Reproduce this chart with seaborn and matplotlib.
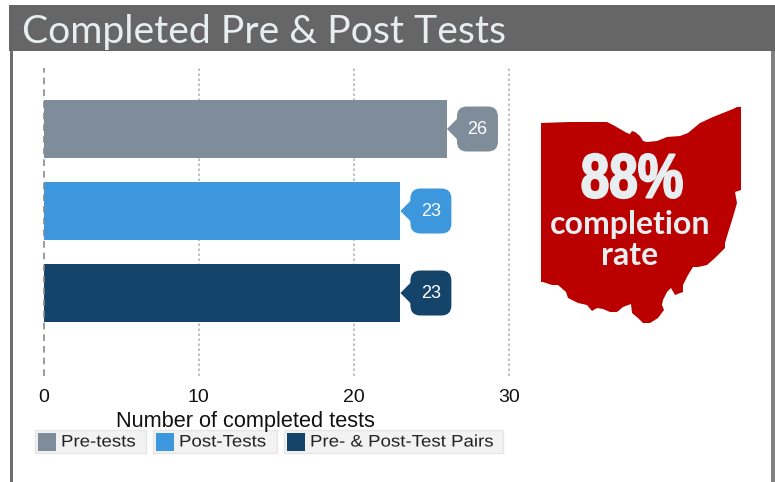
from __future__ import annotations

import matplotlib

matplotlib.use("Agg")
import matplotlib.pyplot as plt
from matplotlib.patches import FancyBboxPatch, Polygon, Rectangle
from matplotlib.patheffects import AbstractPathEffect
from matplotlib.transforms import Affine2D, IdentityTransform
import pandas as pd
import seaborn as sns


CATEGORIES = ["Pre-tests", "Post-Tests", "Pre- & Post-Test Pairs"]
COMPLETED = [26, 23, 23]
COLORS = ["#7F8C99", "#3C97DD", "#15446B"]
TICKS = [0, 10, 20, 30]

TITLE = "Completed Pre & Post Tests"
XLABEL = "Number of completed tests"
RATE = "88%"
RATE_LABEL = "completion\nrate"

# traced state outline, in picture pixels
OHIO = [
    (541, 123), (570, 122), (600, 122), (607, 122), (613, 125), (620, 129), (627, 133),
    (630, 134), (632, 131), (635, 132), (640, 136), (643, 141), (647, 142), (657, 141),
    (667, 137), (680, 136), (688, 133), (700, 123), (713, 117), (723, 113), (733, 109),
    (737, 107), (741, 107), (741, 190), (735, 192), (737, 203), (733, 217), (728, 233),
    (725, 243), (725, 248), (715, 258), (707, 265), (698, 267), (693, 267), (688, 275),
    (683, 285), (683, 292), (675, 295), (671, 288), (667, 292), (663, 300), (662, 305),
    (664, 310), (658, 318), (650, 323), (643, 323), (638, 318), (632, 313), (631, 304),
    (623, 307), (617, 312), (610, 312), (603, 309), (597, 308), (592, 311), (587, 305),
    (578, 303), (568, 298), (566, 292), (558, 285), (552, 285), (543, 282), (541, 282),
]

W, H = 775, 482


class WidthScale(AbstractPathEffect):
    # scale glyphs sideways, no installed font has these proportions
    def __init__(self, center_x, factor, stroke=0):
        super().__init__()
        self.center_x = center_x
        self.factor = factor
        self.stroke = stroke

    def draw_path(self, renderer, gc, tpath, affine, rgbFace=None):
        scale = Affine2D().translate(-self.center_x, 0).scale(self.factor, 1).translate(self.center_x, 0)
        gc0 = renderer.new_gc()
        gc0.copy_properties(gc)
        gc0.set_linewidth(self.stroke)
        gc0.set_foreground(rgbFace)
        renderer.draw_path(gc0, tpath, affine + scale, rgbFace)
        gc0.restore()


def draw_callouts(ax) -> None:
    # speech bubbles sit just past the end of each bar
    for i, (value, color) in enumerate(zip(COMPLETED, COLORS)):
        px, py = ax.transData.transform((value, i))
        box = FancyBboxPatch(
            (px + 10 + 9, py - 22.5 + 9), 41 - 18, 45 - 18,
            boxstyle="round,pad=9,rounding_size=10",
            facecolor=color, edgecolor="none",
            transform=IdentityTransform(), clip_on=False, zorder=5,
        )
        tip = Polygon(
            [(px, py), (px + 11, py + 11), (px + 11, py - 11)],
            facecolor=color, edgecolor="none",
            transform=IdentityTransform(), clip_on=False, zorder=5,
        )
        ax.add_patch(box)
        ax.add_patch(tip)
        ax.text(
            px + 30.5, py, str(value), color="white", fontsize=13,
            ha="center", va="center", transform=IdentityTransform(), zorder=6,
        )


def draw_legend(page) -> None:
    spans = [(35, 146), (153, 277), (284, 503)]
    for (x0, x1), label, color in zip(spans, CATEGORIES, COLORS):
        page.add_patch(Rectangle((x0, 429.5), x1 - x0, 23.5, facecolor="#F2F2F2", edgecolor="#E6E6E6", lw=1))
        page.add_patch(Rectangle((x0 + 3, 433), 18, 18, facecolor=color, edgecolor="none"))
        page.text(x0 + 26, 442, label, fontsize=12, color="#222222", va="center", family="Liberation Sans",
                  path_effects=[WidthScale(x0 + 26, 1.12)])


def main() -> None:
    sns.set_theme(style="white")
    plt.rcParams["font.family"] = ["Liberation Sans", "DejaVu Sans"]

    fig = plt.figure(figsize=(W / 100, H / 100), dpi=100, facecolor="white")
    page = fig.add_axes([0, 0, 1, 1], zorder=0)
    page.set_xlim(0, W)
    page.set_ylim(H, 0)
    page.axis("off")

    # header band and side rules
    page.add_patch(Rectangle((9, 5), W - 9, 46, facecolor="#666666", edgecolor="none"))
    page.add_patch(Rectangle((10, 51), 2.5, H - 51, facecolor="#6E6E6E", edgecolor="none"))
    page.add_patch(Rectangle((771, 51), 4, H - 51, facecolor="#808080", edgecolor="none"))
    page.text(22, 32, TITLE, color="#E8EEF0", fontsize=28.2, family="Lato", va="center")

    ax = fig.add_axes([43.5 / W, 1 - 376 / H, (509 - 43.5) / W, (376 - 68) / H], zorder=1)
    ax.patch.set_alpha(0)
    df = pd.DataFrame({"category": CATEGORIES, "completed": COMPLETED})
    sns.barplot(
        data=df, y="category", x="completed", hue="category", palette=COLORS,
        order=CATEGORIES, hue_order=CATEGORIES, width=0.707, saturation=1,
        linewidth=0, legend=False, ax=ax, zorder=2,
    )
    ax.set_xlim(0, 30)
    ax.set_ylim(3.012, -0.744)
    ax.set_xticks(TICKS)
    ax.set_yticks([])
    ax.set_ylabel("")
    ax.set_xlabel(XLABEL, fontsize=15.7, labelpad=4, color="#111111", x=0.433)
    ax.tick_params(axis="x", length=0, labelsize=14, pad=9, labelcolor="#111111")
    sns.despine(ax=ax, left=True, bottom=True)
    for tick in TICKS[1:]:
        ax.axvline(tick, color="#B5B5B5", lw=1.2, ls=(0, (1.5, 1.5)), zorder=1, clip_on=False)
    ax.axvline(0, color="#8A8A8A", lw=1.2, ls=(0, (4, 3)), zorder=3, clip_on=False)

    draw_callouts(ax)
    draw_legend(page)

    # state shape with the headline figure on it
    page.add_patch(Polygon(OHIO, closed=True, facecolor="#BB0000", edgecolor="none"))
    page.text(632, 181, RATE, color="#E8EEF0", fontsize=45, weight="bold", family="Liberation Sans",
              ha="center", va="center", path_effects=[WidthScale(632, 0.82, 1.5)])
    page.text(630, 240, RATE_LABEL, color="#E8EEF0", fontsize=23, weight="bold", family="Lato",
              ha="center", va="center", linespacing=1.1)

    fig.savefig("out.png", dpi=100)
    plt.close(fig)


if __name__ == "__main__":
    main()
